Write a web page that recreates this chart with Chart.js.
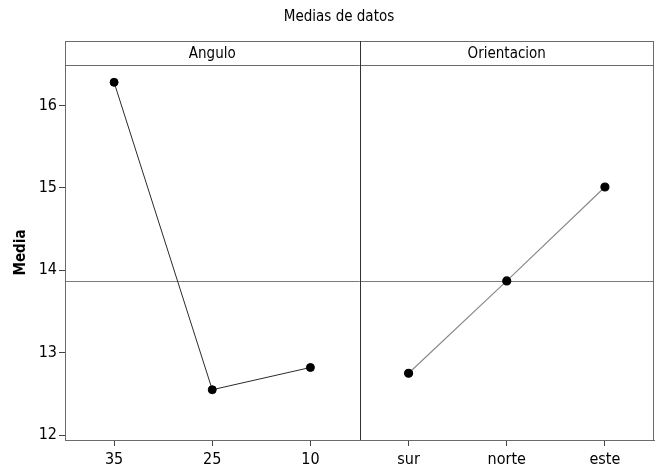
<!DOCTYPE html>
<html>
<head>
<meta charset="utf-8">
<script src="https://cdn.jsdelivr.net/npm/chart.js@4/dist/chart.umd.min.js"></script>
<style>
  html, body { margin: 0; padding: 0; background: #ffffff; }
  #wrap { width: 656px; height: 472px; }
</style>
</head>
<body>
<div id="wrap"><canvas id="c" width="656" height="472"></canvas></div>
<script>
// Factor levels and the data means at each level
const chartTitle = 'Medias de datos';
const angleName = 'Angulo';
const angleLevels = ['35', '25', '10'];
const angleMeans = [16.28, 12.55, 12.82];

const orientName = 'Orientacion';
const orientLevels = ['sur', 'norte', 'este'];
const orientMeans = [12.75, 13.87, 15.01];

// Overall mean, drawn as the horizontal reference line
const overallMean = 13.87;

const yTicks = [12, 13, 14, 15, 16];
const yMin = 11.94;
const yMax = 16.49;

const FONT = "'DejaVu Sans Condensed', 'DejaVu Sans', sans-serif";
const allLevels = angleLevels.concat(orientLevels);

// Panel frame, header strip, divider, reference line and title
const panelPlugin = {
  id: 'panels',
  beforeDatasetsDraw(chart) {
    const { ctx, chartArea: a, scales: { y } } = chart;
    const yRef = y.getPixelForValue(overallMean);
    ctx.save();
    ctx.strokeStyle = '#7a7a7a';
    ctx.lineWidth = 1;
    ctx.beginPath();
    ctx.moveTo(a.left, Math.round(yRef) + 0.5);
    ctx.lineTo(a.right, Math.round(yRef) + 0.5);
    ctx.stroke();
    ctx.restore();
  },
  afterDraw(chart) {
    const { ctx, chartArea: a, scales: { x } } = chart;
    const split = (x.getPixelForValue(2) + x.getPixelForValue(3)) / 2;
    const headH = 24;
    ctx.save();
    ctx.lineWidth = 1;
    // outer frame and header strip
    ctx.strokeStyle = '#6a6a6a';
    ctx.strokeRect(Math.round(a.left) + 0.5, Math.round(a.top - headH) + 0.5,
                   Math.round(a.right - a.left) - 1, Math.round(a.bottom - a.top + headH));
    ctx.beginPath();
    ctx.moveTo(a.left, Math.round(a.top) + 0.5);
    ctx.lineTo(a.right, Math.round(a.top) + 0.5);
    ctx.stroke();
    // panel divider
    ctx.strokeStyle = '#333333';
    ctx.beginPath();
    ctx.moveTo(Math.round(split) + 0.5, a.top - headH);
    ctx.lineTo(Math.round(split) + 0.5, a.bottom);
    ctx.stroke();
    // header labels
    ctx.fillStyle = '#000000';
    ctx.font = '15px ' + FONT;
    ctx.textAlign = 'center';
    ctx.textBaseline = 'middle';
    ctx.fillText(angleName, (a.left + split) / 2, a.top - headH / 2 + 1);
    ctx.fillText(orientName, (split + a.right) / 2, a.top - headH / 2 + 1);
    // chart title
    ctx.font = '15px ' + FONT;
    ctx.fillText(chartTitle, 339, 17);
    ctx.restore();
  }
};

new Chart(document.getElementById('c'), {
  type: 'line',
  data: {
    labels: allLevels,
    datasets: [
      {
        label: angleName,
        data: angleLevels.map((l, i) => ({ x: l, y: angleMeans[i] })),
        borderColor: '#2a2a2a',
        borderWidth: 1,
        pointBackgroundColor: '#000000',
        pointBorderColor: '#000000',
        pointRadius: 4,
        tension: 0
      },
      {
        label: orientName,
        data: orientLevels.map((l, i) => ({ x: l, y: orientMeans[i] })),
        borderColor: '#8a8a8a',
        borderWidth: 1.2,
        pointBackgroundColor: '#000000',
        pointBorderColor: '#000000',
        pointRadius: 4,
        tension: 0
      }
    ]
  },
  options: {
    responsive: false,
    animation: false,
    devicePixelRatio: 1,
    layout: { autoPadding: false, padding: { top: 65, right: 2, bottom: 0, left: 0 } },
    plugins: {
      legend: { display: false },
      title: { display: false },
      tooltip: { enabled: false }
    },
    scales: {
      x: {
        type: 'category',
        offset: true,
        grid: { display: true, drawOnChartArea: false, drawTicks: true, tickLength: 6, color: '#444444' },
        border: { display: true, color: '#6a6a6a' },
        ticks: { color: '#000000', font: { family: FONT, size: 16 }, padding: 4, maxRotation: 0 },
        afterFit(s) { s.height = 32; s.paddingLeft = 0; s.paddingRight = 0; }
      },
      y: {
        type: 'linear',
        min: yMin,
        max: yMax,
        afterBuildTicks(s) { s.ticks = yTicks.map(v => ({ value: v })); },
        grid: { display: true, drawOnChartArea: false, drawTicks: true, tickLength: 6, color: '#444444' },
        border: { display: true, color: '#333333' },
        ticks: { color: '#000000', font: { family: FONT, size: 16 }, padding: 2 },
        title: { display: true, text: 'Media', color: '#000000', font: { family: FONT, size: 15, weight: 'bold' }, padding: { top: 12, bottom: 0 } },
        afterFit(s) { s.width = 65; s.paddingTop = 0; s.paddingBottom = 0; }
      }
    }
  },
  plugins: [panelPlugin]
});
</script>
</body>
</html>
